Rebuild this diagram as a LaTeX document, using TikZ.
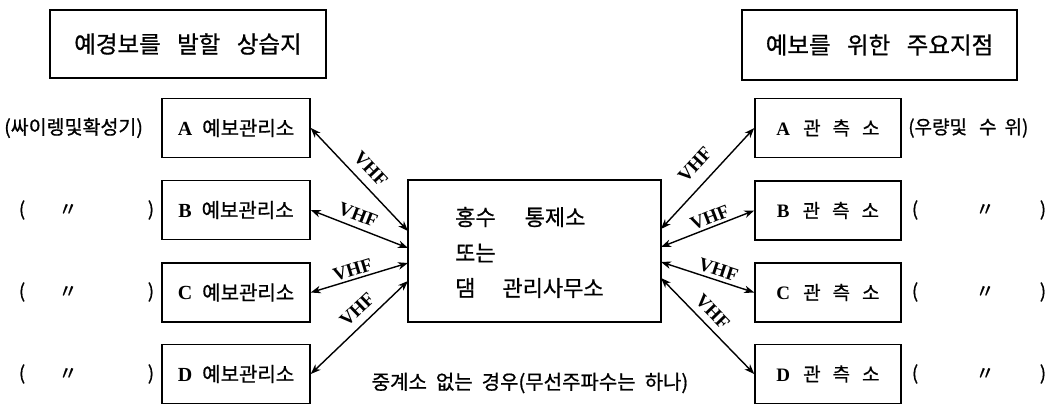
\documentclass[tikz,border=0pt]{standalone}
\usepackage{fontspec}
\setmainfont{Liberation Serif}
\newfontfamily\kr[FakeBold=0.8]{Noto Sans CJK KR}
\usetikzlibrary{arrows.meta}
\tikzset{
  titlebox/.style={draw, line width=1.5pt, inner sep=0pt, font=\kr\fontsize{23.5}{23.5}\selectfont},
  stationbox/.style={draw, line width=1.5pt, minimum width=148pt, minimum height=59pt, inner sep=0pt},
  centerbox/.style={draw, line width=1.5pt, minimum width=253pt, minimum height=142pt, inner sep=0pt},
  conn/.style={line width=1.4pt, {Stealth[length=10pt,width=7.5pt,inset=3pt]}-{Stealth[length=10pt,width=7.5pt,inset=3pt]}},
  vhf/.style={font=\fontsize{19}{19}\selectfont\bfseries, sloped, inner sep=0.5pt},
  note/.style={font=\kr\fontsize{19}{19}\selectfont, inner sep=0pt},
  ctext/.style={font=\kr\fontsize{22}{22}\selectfont, inner sep=0pt, anchor=west},
}
\newcommand{\lbl}[1]{{\bfseries\fontsize{20}{20}\selectfont #1}\hspace{10pt}{\kr\fontsize{20}{20}\selectfont 예보관리소}}
\newcommand{\rbl}[1]{{\bfseries\fontsize{19}{19}\selectfont #1}\hspace{13pt}{\kr\fontsize{19}{19}\selectfont 관\hspace{12pt}측\hspace{12pt}소}}
\begin{document}
\begin{tikzpicture}[x=1pt,y=-1pt]
\useasboundingbox (0,0) rectangle (1052,404);
% titles
\node[titlebox, minimum width=276pt, minimum height=68pt] (lt) at (188,44) {예경보를\hspace{0.7em}발할\hspace{0.7em}상습지};
\node[titlebox, minimum width=275pt, minimum height=70pt] (rt) at (879.5,45) {예보를\hspace{0.7em}위한\hspace{0.7em}주요지점};
% left boxes
\node[stationbox] (lA) at (236,128) {\lbl{A}};
\node[stationbox] (lB) at (236,210) {\lbl{B}};
\node[stationbox] (lC) at (236,292.5) {\lbl{C}};
\node[stationbox] (lD) at (236,374) {\lbl{D}};
% right boxes
\node[stationbox, minimum width=146pt] (rA) at (828,128) {\rbl{A}};
\node[stationbox, minimum width=146pt] (rB) at (828,210.5) {\rbl{B}};
\node[stationbox, minimum width=146pt] (rC) at (828,292.5) {\rbl{C}};
\node[stationbox, minimum width=146pt] (rD) at (828,374) {\rbl{D}};
% center
\node[centerbox] (ctr) at (534.5,251) {};
\node[ctext] (c1) at (455,217) {홍수\hspace{29pt}통제소};
\node[ctext] (c2) at (455,253) {또는};
\node[ctext] (c3) at (455,288) {댐\hspace{27pt}관리사무소};
\node[font=\kr\fontsize{20}{20}\selectfont, inner sep=0pt] (cap) at (530,383) {중계소\hspace{0.45em}없는\hspace{0.45em}경우(무선주파수는\hspace{0.45em}하나)};
% side notes
\node[note, anchor=west, font=\kr\fontsize{19.5}{19.5}\selectfont] (nA) at (4,128) {(싸이렝및확성기)};
\node[note] (nB1) at (22,210) {(};
\node[note] (nB2) at (68,210) {〃};
\node[note] (nB3) at (151,210) {)};
\node[note] (nC1) at (22,292) {(};
\node[note] (nC2) at (68,292) {〃};
\node[note] (nC3) at (151,292) {)};
\node[note] (nD1) at (22,374) {(};
\node[note] (nD2) at (68,374) {〃};
\node[note] (nD3) at (151,374) {)};
\node[note, anchor=west] (mA) at (908,128) {(우량및\hspace{12pt}수\hspace{8pt}위)};
\node[note] (mB1) at (915,210) {(};
\node[note] (mB2) at (985,210) {〃};
\node[note] (mB3) at (1043,210) {)};
\node[note] (mC1) at (915,292) {(};
\node[note] (mC2) at (985,292) {〃};
\node[note] (mC3) at (1043,292) {)};
\node[note] (mD1) at (915,374) {(};
\node[note] (mD2) at (985,374) {〃};
\node[note] (mD3) at (1043,374) {)};
% connector points on center box
\coordinate (pl1) at (408,231);
\coordinate (pl2) at (408,248);
\coordinate (pl3) at (408,263);
\coordinate (pl4) at (408,281);
\coordinate (pr1) at (661,229);
\coordinate (pr2) at (661,247);
\coordinate (pr3) at (661,262);
\coordinate (pr4) at (661,278);
% connectors
\draw[conn] (lA.east) -- node[vhf, pos=0.5, above=8pt] {VHF} (pl1);
\draw[conn] (lB.east) -- node[vhf, pos=0.44, above=5pt] {VHF} (pl2);
\draw[conn] (lC.east) -- node[vhf, pos=0.46, above=2pt] {VHF} (pl3);
\draw[conn] (lD.east) -- node[vhf, pos=0.58, above=7pt] {VHF} (pl4);
\draw[conn] (pr1) -- node[vhf, pos=0.51, above=11pt] {VHF} (rA.west);
\draw[conn] (pr2) -- node[vhf, pos=0.56, above=2pt] {VHF} (rB.west);
\draw[conn] (pr3) -- node[vhf, pos=0.58, above=3pt] {VHF} (rC.west);
\draw[conn] (pr4) -- node[vhf, pos=0.45, above=6pt] {VHF} (rD.west);
\end{tikzpicture}
\end{document}
